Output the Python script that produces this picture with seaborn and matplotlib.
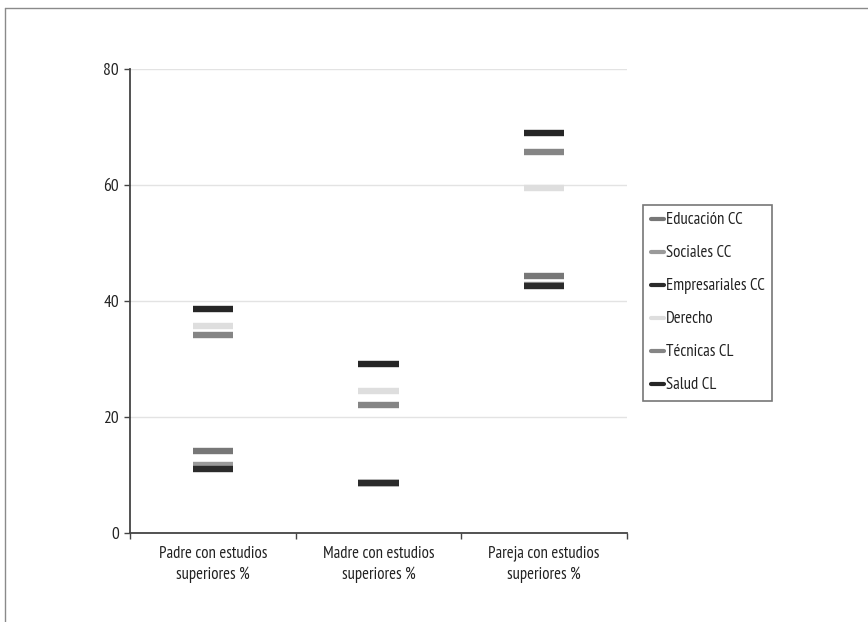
import matplotlib
matplotlib.use("Agg")
import matplotlib.pyplot as plt
from matplotlib.lines import Line2D
import seaborn as sns
import pandas as pd

# Categories on the x axis
categories = [
    "Padre con estudios\nsuperiores %",
    "Madre con estudios\nsuperiores %",
    "Pareja con estudios\nsuperiores %",
]

# Series (share of students, %)
educacion_cc = [14.1, 8.7, 44.3]
sociales_cc = [11.8, 8.7, 42.7]
empresariales_cc = [11.1, 8.7, 42.5]
derecho = [35.7, 24.5, 59.4]
tecnicas_cl = [34.1, 22.1, 65.7]
salud_cl = [38.6, 29.1, 68.9]

series_names = ["Educación CC", "Sociales CC", "Empresariales CC",
                "Derecho", "Técnicas CL", "Salud CL"]
series_values = [educacion_cc, sociales_cc, empresariales_cc,
                 derecho, tecnicas_cl, salud_cl]
series_colors = ["#777777", "#9a9a9a", "#2b2b2b", "#dedede", "#858585", "#262626"]

y_ticks = [0, 20, 40, 60, 80]

rows = []
for name, vals in zip(series_names, series_values):
    for cat, v in zip(categories, vals):
        rows.append({"categoria": cat, "serie": name, "valor": v})
df = pd.DataFrame(rows)

sns.set_theme(style="white")
plt.rcParams["font.family"] = ["PT Sans Narrow", "DejaVu Sans"]

fig = plt.figure(figsize=(8.68, 6.22), dpi=100)
W, H = 868, 622
ax = fig.add_axes([130 / W, 1 - 533 / H, (627 - 130) / W, (533 - 69) / H])

palette = dict(zip(series_names, series_colors))
sns.scatterplot(data=df, x="categoria", y="valor", hue="serie",
                hue_order=series_names, palette=palette, marker="_",
                s=29 ** 2, linewidth=4.6, legend=False, ax=ax, zorder=3)

ax.set_xlim(-0.5, 2.5)
ax.set_ylim(0, 80)
ax.set_yticks(y_ticks)
ax.set_yticklabels([str(t) for t in y_ticks], fontsize=12.5, color="#222222")
ax.set_xticks(range(len(categories)))
ax.set_xticklabels(categories, fontsize=12, color="#222222", linespacing=1.4)
ax.set_xticks([-0.5, 0.5, 1.5, 2.5], minor=True)
ax.tick_params(axis="x", which="major", length=0, pad=9)
ax.tick_params(axis="x", which="minor", length=4, width=1, color="#444444", bottom=True)
ax.tick_params(axis="y", length=4, width=1, color="#444444", left=True, pad=4)
ax.set_xlabel("")
ax.set_ylabel("")

ax.yaxis.grid(True, color="#e3e3e3", linewidth=1)
ax.set_axisbelow(True)
for side in ["top", "right"]:
    ax.spines[side].set_visible(False)
for side in ["left", "bottom"]:
    ax.spines[side].set_color("#444444")
    ax.spines[side].set_linewidth(1.3)

handles = [Line2D([0], [0], color=c, lw=3) for c in series_colors]
leg = fig.legend(handles, series_names, loc="upper left",
                 bbox_to_anchor=(643 / W, 1 - 205 / H), fontsize=12,
                 handlelength=0.8, handletextpad=0.1, labelspacing=1.02,
                 borderpad=0.45, borderaxespad=0, frameon=True, fancybox=False)
leg.get_frame().set_edgecolor("#555555")
leg.get_frame().set_linewidth(1.2)
for t in leg.get_texts():
    t.set_color("#222222")

# Outer frame line (top and left edges)
fig.add_artist(Line2D([5 / W, 5 / W], [0, 1 - 8 / H], transform=fig.transFigure,
                      color="#8a8a8a", lw=1))
fig.add_artist(Line2D([5 / W, 1], [1 - 8 / H, 1 - 8 / H], transform=fig.transFigure,
                      color="#8a8a8a", lw=1))

fig.savefig("out.png", dpi=100)
